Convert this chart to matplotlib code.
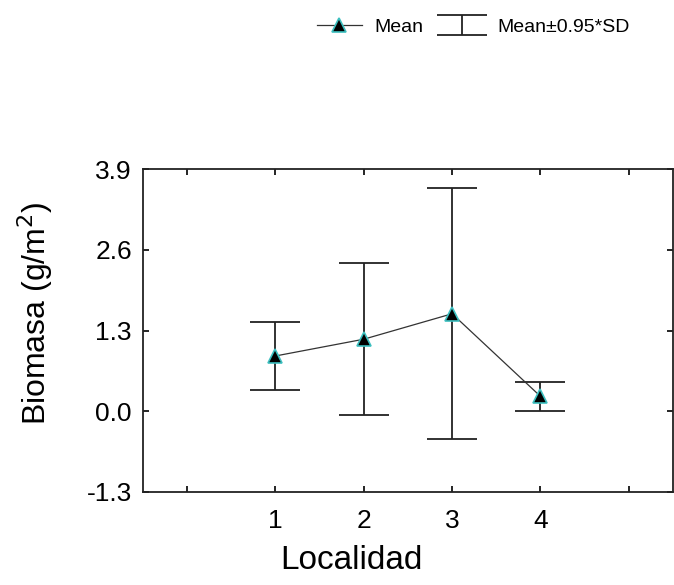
import numpy as np
from matplotlib import pyplot as plt

plt.rcParams['font.family'] = ['Liberation Sans', 'DejaVu Sans']

# data
localidad = [1, 2, 3, 4]
media = [0.89, 1.16, 1.57, 0.24]
inferior = [0.35, -0.06, -0.44, 0.00]
superior = [1.43, 2.39, 3.59, 0.47]

yerr = [np.array(media) - np.array(inferior), np.array(superior) - np.array(media)]

fig = plt.figure(figsize=(6.74, 5.85), dpi=100)
ax = fig.add_axes([0.212, 0.159, 0.7865, 0.552])

# error bars and means
eb = ax.errorbar(localidad, media, yerr=yerr, fmt='none', ecolor='#222222',
                 elinewidth=1.3, capsize=18, capthick=1.3, label='Mean±0.95*SD')
ln, = ax.plot(localidad, media, color='#333333', linewidth=0.9, marker='^',
              markersize=10, markerfacecolor='black', markeredgecolor='#3cbfbf',
              markeredgewidth=1.2, label='Mean', zorder=3)

ax.set_xlim(-0.5, 5.5)
ax.set_ylim(-1.3, 3.9)
ax.set_xticks([0, 1, 2, 3, 4, 5])
ax.set_xticklabels(['', '1', '2', '3', '4', ''])
ax.set_yticks([-1.3, 0.0, 1.3, 2.6, 3.9])
ax.set_yticklabels(['-1.3', '0.0', '1.3', '2.6', '3.9'])
ax.tick_params(direction='in', length=4, width=1.2, labelsize=19,
               top=True, right=True, pad=8)
ax.tick_params(axis='x', pad=12)
for s in ax.spines.values():
    s.set_linewidth(1.3)
    s.set_color('#222222')

ax.set_xlabel('Localidad', fontsize=24)
ax.xaxis.set_label_coords(0.393, -0.165)
ax.set_ylabel('Biomasa (g/m$^2$)', fontsize=23)
ax.yaxis.set_label_coords(-0.165, 0.554)

fig.legend(handles=[ln, eb], loc='center', bbox_to_anchor=(0.702, 0.954),
           ncol=2, frameon=False, fontsize=14, handlelength=2.3,
           columnspacing=0.8, handletextpad=0.67)

plt.savefig('out.png', dpi=100)
